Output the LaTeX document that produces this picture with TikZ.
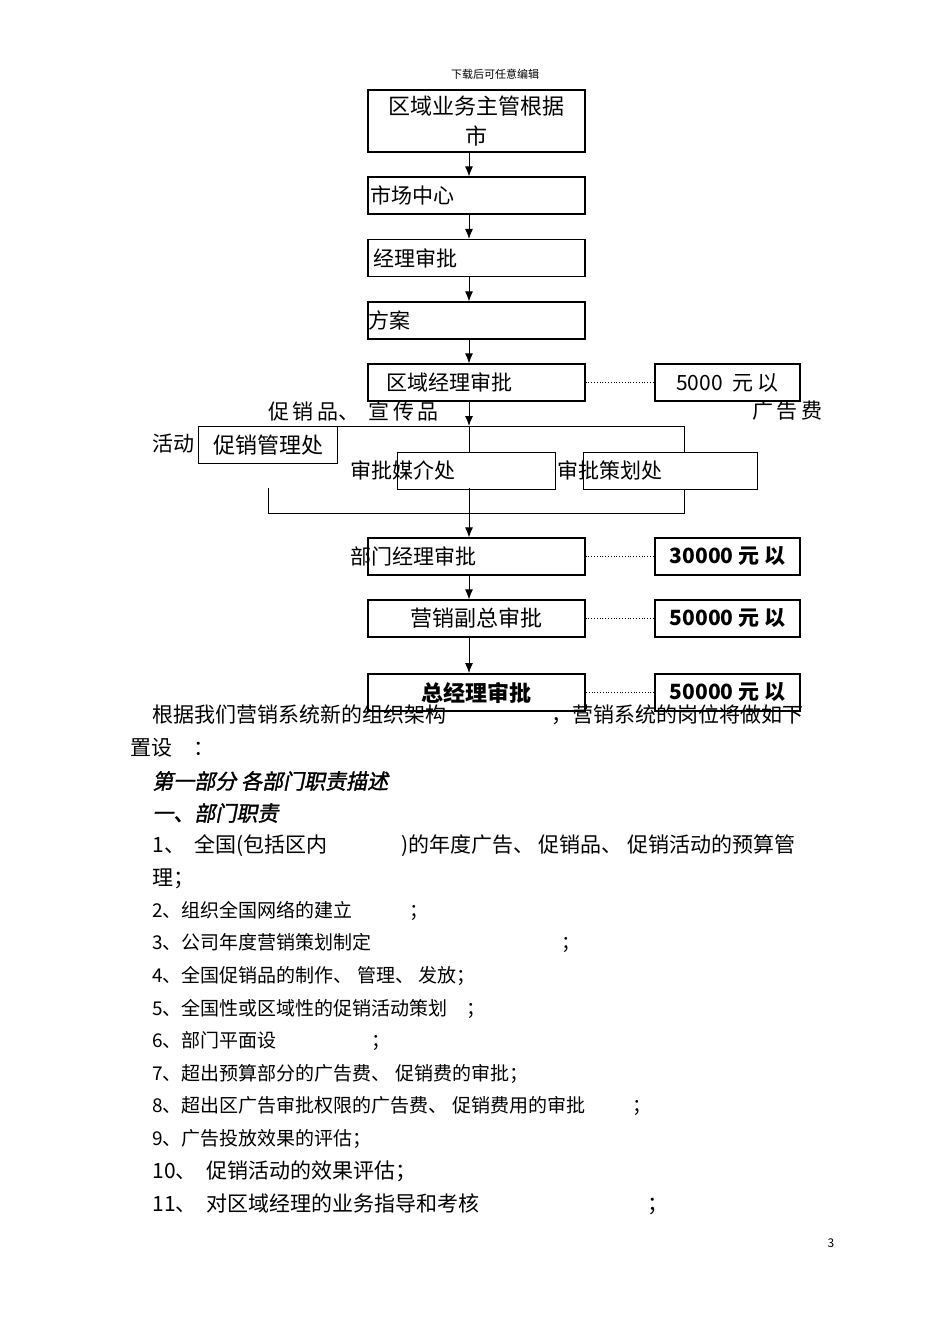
\documentclass[tikz,border=0pt]{standalone}
\usepackage{fontspec}
\setmainfont{Noto Sans CJK SC}
\newfontfamily\slcjk[FakeSlant=0.2,FakeBold=1.5]{Noto Sans CJK SC}
\usetikzlibrary{arrows.meta}
\begin{document}
\begin{tikzpicture}[x=0.5pt,y=-0.5pt,
 bx/.style={draw,line width=0.6pt,minimum height=18.5pt,inner sep=0pt},
 side/.style={draw,line width=0.6pt,minimum height=18.5pt,minimum width=72.5pt,inner sep=0pt,font=\fontsize{10.5}{12}\selectfont},
 arr/.style={-{Latex[length=5pt,width=4pt]},line width=0.5pt},
 dot/.style={densely dotted,line width=0.4pt},
 tx/.style={anchor=west,inner sep=0pt,font=\fontsize{10.5}{13}\selectfont},
 sm/.style={anchor=west,inner sep=0pt,font=\fontsize{9.5}{12}\selectfont}]
\useasboundingbox (0,0) rectangle (950,1344);
\node[font=\fontsize{5.5}{6}\selectfont] (hd) at (495,74) {下载后可任意编辑};
% boxes
\node[bx,minimum width=108.5pt,minimum height=31pt,align=center,font=\fontsize{11}{15}\selectfont] (b1) at (476.5,121) {区域业务主管根据\\市};
\node[bx,minimum width=108.5pt] (b2) at (476.5,195.5) {};
\node[tx] at (370,195.5) {市场中心};
\node[bx,minimum width=108.5pt] (b3) at (476.5,258) {};
\node[tx] at (373,258) {经理审批};
\node[bx,minimum width=108.5pt] (b4) at (476.5,320.5) {};
\node[tx] at (368,320.5) {方案};
\node[bx,minimum width=108.5pt] (b5) at (476.5,382.5) {};
\node[tx] at (386,382.5) {区域经理审批};
\node[side] (s5) at (727.5,382.5) {5000\ \ 元\ 以};
\draw[dot] (b5.east) -- (s5.west);
\node[tx] (t1) at (268,411) {促\,销\,品、\ \ 宣\,传\,品};
\node[tx] (t2) at (752,411) {广\,告\,费};
\node[tx] (t3) at (152,444) {活动};
\coordinate (tl) at (337,426); \coordinate (tr) at (684,426);
\coordinate (bl) at (268,513); \coordinate (br) at (684,513);
\draw[line width=0.5pt] (tl) -- (tr) -- (br) -- (bl) -- ++(0,-25);
\node[bx,minimum width=69.5pt,fill=white,anchor=north west,font=\fontsize{11}{13}\selectfont] (p1) at (198,426) {促销管理处};
\node[bx,minimum width=79pt,anchor=north west,fill=white] (p2) at (397,452) {};
\node[bx,minimum width=87pt,anchor=north west,fill=white] (p3) at (583,452) {};
\node[tx] at (350,470) {审批媒介处};
\node[tx] at (557,470) {审批策划处};
\node[bx,minimum width=108.5pt] (b6) at (476.5,556.5) {};
\node[tx] at (350,556.5) {部门经理审批};
\node[side,font=\bfseries\fontsize{10.5}{12}\selectfont] (s6) at (727.5,556.5) {30000 元 以};
\draw[dot] (b6.east) -- (s6.west);
\node[bx,minimum width=108.5pt,font=\fontsize{11}{13}\selectfont] (b7) at (476.5,618.5) {营销副总审批};
\node[side,font=\bfseries\fontsize{10.5}{12}\selectfont] (s7) at (727.5,618.5) {50000 元 以};
\draw[dot] (b7.east) -- (s7.west);
\node[bx,line width=0.9pt,minimum width=108.5pt,font=\bfseries\fontsize{11}{13}\selectfont] (b8) at (476.5,692.5) {总经理审批};
\node[side,font=\bfseries\fontsize{10.5}{12}\selectfont] (s8) at (727.5,692.5) {50000 元 以};
\draw[dot] (b8.east) -- (s8.west);
% arrows
\draw[arr] (b1.south -| 469,0) -- (b2.north -| 469,0);
\draw[arr] (b2.south -| 469,0) -- (b3.north -| 469,0);
\draw[arr] (b3.south -| 469,0) -- (b4.north -| 469,0);
\draw[arr] (b4.south -| 469,0) -- (b5.north -| 469,0);
\draw[arr] (b5.south -| 469,0) -- (469,426);
\draw[line width=0.5pt] (469,426) -- (469,452);
\draw[arr] (469,488) -- (b6.north -| 469,0);
\draw[arr] (b6.south -| 469,0) -- (b7.north -| 469,0);
\draw[arr] (b7.south -| 469,0) -- (b8.north -| 469,0);
% body text
\node[tx] at (152,715) {根据我们营销系统新的组织架构\hspace{5em}，营销系统的岗位将做如下};
\node[tx] at (130,748) {置设\quad ：};
\node[tx,font=\slcjk\fontsize{10.5}{13}\selectfont] at (152,781) {第一部分\ 各部门职责描述};
\node[tx,font=\slcjk\fontsize{10.5}{13}\selectfont] at (152,813) {一、部门职责};
\node[tx] at (152,846) {1、\ \ 全国(包括区内\hspace{3.5em})的年度广告、\ 促销品、\ 促销活动的预算管};
\node[tx] at (152,879) {理；};
\node[sm] at (152,911) {2、组织全国网络的建立\hspace{3em}；};
\node[sm] at (152,943) {3、公司年度营销策划制定\hspace{10em}；};
\node[sm] at (152,976) {4、全国促销品的制作、\ 管理、\ 发放；};
\node[sm] at (152,1009) {5、全国性或区域性的促销活动策划\quad ；};
\node[sm] at (152,1041) {6、部门平面设\hspace{5em}；};
\node[sm] at (152,1074) {7、超出预算部分的广告费、\ 促销费的审批；};
\node[sm] at (152,1106) {8、超出区广告审批权限的广告费、\ 促销费用的审批\hspace{2.5em}；};
\node[sm] at (152,1139) {9、广告投放效果的评估；};
\node[tx] at (152,1171) {10、\ \ 促销活动的效果评估；};
\node[tx] at (152,1204) {11、\ \ 对区域经理的业务指导和考核\hspace{8em}；};
\node[font=\fontsize{6}{7}\selectfont] (pg) at (831,1243) {3};
\end{tikzpicture}
\end{document}
